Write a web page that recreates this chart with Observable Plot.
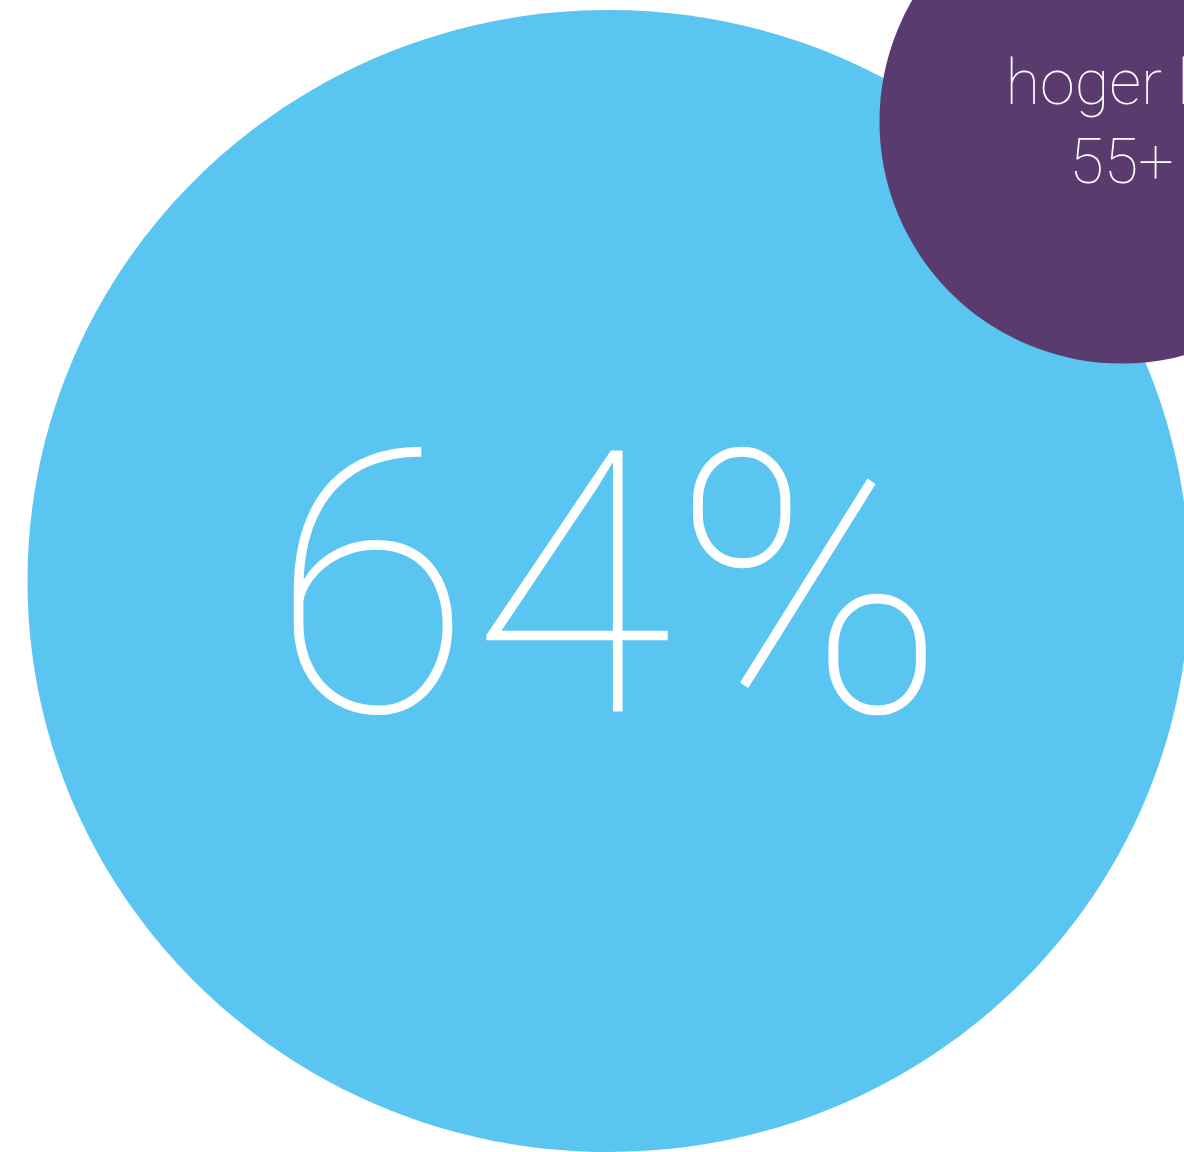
<!DOCTYPE html>
<html>
<head>
<meta charset="utf-8">
<script src="https://cdn.jsdelivr.net/npm/d3@7"></script>
<script src="https://cdn.jsdelivr.net/npm/@observablehq/plot@0.6"></script>
<style>
  html, body { margin: 0; padding: 0; background: #ffffff; overflow: hidden; }
  #chart svg { display: block; }
</style>
</head>
<body>
<div id="chart"></div>
<script>
// ---- data ----
const groups = ["totaal", "hoger lid 55+"];
const values = [64, 11.3];            // share (%) — bubble area
const valueLabels = ["64%", "hoger lid\n55+"];

// ---- layout (separate from data) ----
const W = 1184, H = 1152;
const centerX = [608, 1121];
const centerY = [580.5, 121];
const fills = ["#5BC5F1", "#5A3B70"];
const baselines = [711, 182];

const rows = groups.map((g, i) => ({
  group: g, value: values[i], label: valueLabels[i],
  x: centerX[i], y: centerY[i], fill: fills[i], base: baselines[i]
}));

// slightly elliptical bubble (reference is stretched horizontally)
const SX = 581 / 576, SY = 571 / 576, K = 0.5522847498;
const ellipse = {
  draw(ctx, size) {
    const r = Math.sqrt(size / Math.PI);
    const rx = r * SX, ry = r * SY;
    ctx.moveTo(rx, 0);
    ctx.bezierCurveTo(rx, ry * K, rx * K, ry, 0, ry);
    ctx.bezierCurveTo(-rx * K, ry, -rx, ry * K, -rx, 0);
    ctx.bezierCurveTo(-rx, -ry * K, -rx * K, -ry, 0, -ry);
    ctx.bezierCurveTo(rx * K, -ry, rx, -ry * K, rx, 0);
    ctx.closePath();
  }
};

const font = "Roboto, 'Noto Sans', sans-serif";

const chart = Plot.plot({
  width: W,
  height: H,
  margin: 0,
  x: { domain: [0, W], range: [0, W], axis: null },
  y: { domain: [0, H], range: [0, H], axis: null },
  r: { type: "sqrt", domain: [0, 64], range: [0, 576] },
  style: { background: "#ffffff", fontFamily: font },
  marks: [
    Plot.dot(rows.slice(0, 1), {
      x: "x", y: "y", r: "value", symbol: ellipse,
      fill: d => d.fill, stroke: "none", fillOpacity: 1
    }),
    Plot.dot(rows.slice(1), {
      x: "x", y: "y", r: "value", symbol: "circle",
      fill: d => d.fill, stroke: "none", fillOpacity: 1
    }),
    Plot.text(rows.slice(0, 1), {
      x: "x", y: "base", text: "label", dx: 0,
      fill: "#ffffff", fontSize: 367, fontWeight: 100, fontFamily: font,
      textAnchor: "middle", lineAnchor: "bottom"
    }),
    Plot.text(rows.slice(1), {
      x: "x", y: "base", text: "label", dx: 0,
      fill: "#ffffff", fontSize: 63, fontWeight: 100, fontFamily: font,
      textAnchor: "middle", lineAnchor: "bottom", lineHeight: 1.24
    })
  ]
});

document.getElementById("chart").appendChild(chart);
</script>
</body>
</html>
